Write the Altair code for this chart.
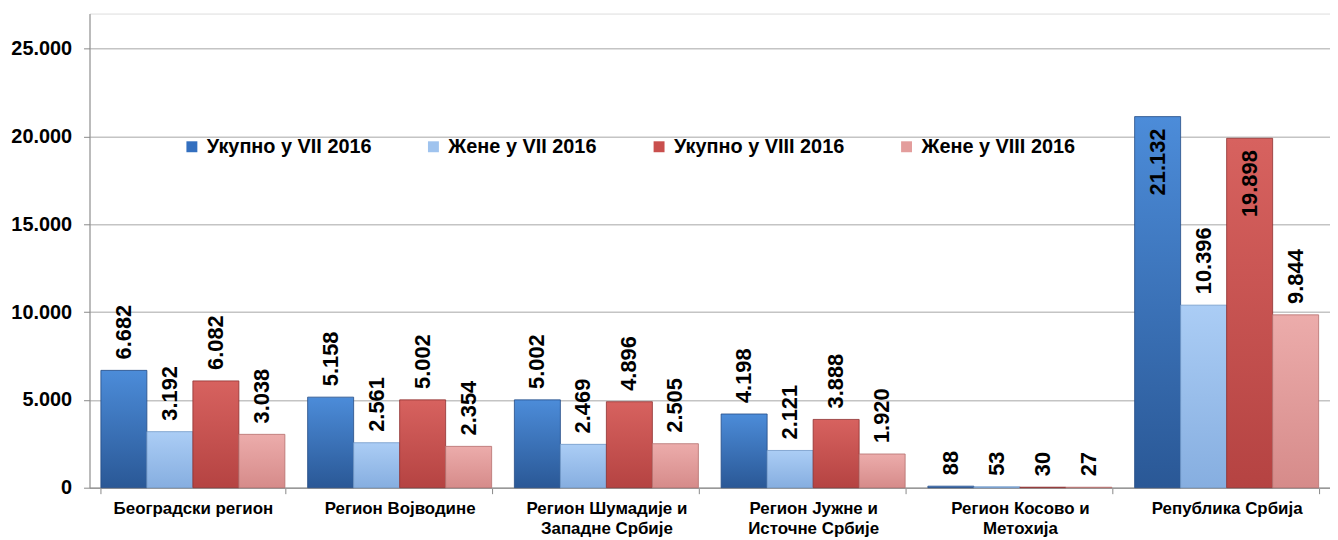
import altair as alt
import pandas as pd

regions = ["Београдски регион", "Регион Војводине", "Регион Шумадије и\nЗападне Србије",
           "Регион Јужне и\nИсточне Србије", "Регион Косово и\nМетохија", "Република Србија"]
series = ["Укупно у VII 2016", "Жене у VII 2016", "Укупно у VIII 2016", "Жене у VIII 2016"]
ukupno_vii = [6682, 5158, 5002, 4198, 88, 21132]
zene_vii = [3192, 2561, 2469, 2121, 53, 10396]
ukupno_viii = [6082, 5002, 4896, 3888, 30, 19898]
zene_viii = [3038, 2354, 2505, 1920, 27, 9844]
y_ticks = [0, 5000, 10000, 15000, 20000, 25000]

legend_colors = ["#336fbf", "#9fc3ee", "#c94f4d", "#e39d9c"]
grad_stops = [("#4c8cd9", "#2a5896"), ("#abcdf5", "#86aee0"),
              ("#d7625f", "#b54342"), ("#ecacab", "#d68b8a")]
stroke_cols = ["#244c85", "#6f97c8", "#8e3030", "#b56f6e"]

rows = []
for vals, s in zip([ukupno_vii, zene_vii, ukupno_viii, zene_viii], series):
    for r, v in zip(regions, vals):
        rows.append({"region": r, "series": s, "value": v})
df = pd.DataFrame(rows)

FONT = "Liberation Sans"
x_enc = alt.X("region:N", sort=regions,
              scale=alt.Scale(paddingInner=0.11, paddingOuter=0.055),
              axis=alt.Axis(title=None, labelAngle=0, labelFont=FONT, labelFontSize=17,
                            labelFontWeight="bold", labelColor="#000", labelPadding=7,
                            labelLineHeight=20, labelExpr="split(datum.label, '\\n')",
                            tickBand="extent", tickSize=6, tickColor="#888",
                            domainColor="#999", domainWidth=1.5, labelBaseline="top"))
y_enc = alt.Y("value:Q", scale=alt.Scale(domain=[0, 27000], nice=False),
              axis=alt.Axis(title=None, values=y_ticks, labelFont=FONT, labelFontSize=20,
                            labelFontWeight="bold", labelColor="#000", labelPadding=12,
                            labelExpr="replace(format(datum.value, ','), ',', '.')",
                            tickSize=6, tickColor="#888", domainColor="#888",
                            gridColor="#c4c4c4", gridWidth=1.5))
xo_enc = alt.XOffset("series:N", sort=series,
                     scale=alt.Scale(domain=series, paddingInner=0, paddingOuter=0))

base = alt.Chart(df).transform_calculate(
    label="replace(format(datum.value, ','), ',', '.')")

layers = []
for s, (c1, c2), sc in zip(series, grad_stops, stroke_cols):
    grad = alt.LinearGradient(gradient="linear", x1=0, y1=0, x2=0, y2=1,
                              stops=[alt.GradientStop(color=c1, offset=0),
                                     alt.GradientStop(color=c2, offset=1)])
    layers.append(
        base.transform_filter(alt.datum.series == s)
        .mark_bar(color=grad, stroke=sc, strokeWidth=1, strokeOpacity=0.8)
        .encode(x=x_enc, y=y_enc, xOffset=xo_enc)
    )

text_out = base.transform_filter(alt.datum.value < 18000).mark_text(
    angle=270, align="left", baseline="middle", dx=11, font=FONT, fontSize=22,
    fontWeight="bold", color="#000"
).encode(x=x_enc, y=y_enc, xOffset=xo_enc, text="label:N")

text_in = base.transform_filter(alt.datum.value >= 18000).mark_text(
    angle=270, align="right", baseline="middle", dx=-12, font=FONT, fontSize=22,
    fontWeight="bold", color="#000"
).encode(x=x_enc, y=y_enc, xOffset=xo_enc, text="label:N")

legend_layer = base.mark_square(opacity=0).encode(
    x=x_enc, y=y_enc, xOffset=xo_enc,
    color=alt.Color("series:N", sort=series,
                    scale=alt.Scale(domain=series, range=legend_colors),
                    legend=alt.Legend(title=None, orient="none", legendX=93, legendY=124,
                                      direction="horizontal", columns=4, columnPadding=52,
                                      symbolType="square", symbolSize=121, symbolOpacity=1,
                                      symbolStrokeWidth=0, labelOffset=5, labelLimit=400,
                                      labelFont=FONT, labelFontSize=20,
                                      labelFontWeight="bold", labelColor="#000"))
)

chart = alt.layer(*layers, text_out, text_in, legend_layer).properties(
    width=1248, height=477, autosize="none",
    padding={"left": 82, "top": 4, "right": 0, "bottom": 50}
).configure_view(stroke=None).configure(background="white")

chart.save("out.html", embed_options={"renderer": "svg", "actions": False})
